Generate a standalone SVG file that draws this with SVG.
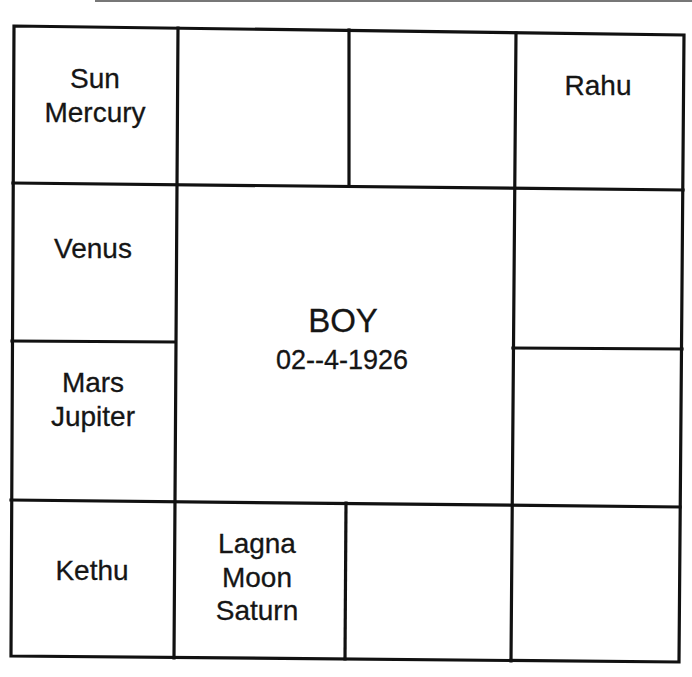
<svg xmlns="http://www.w3.org/2000/svg" width="692" height="677" viewBox="0 0 692 677">
<style>
.ln{stroke:#111;stroke-width:3.2;fill:none;stroke-linecap:square}
.t{font-family:"Liberation Sans",Arial,sans-serif;font-size:28px;fill:#151515;stroke:#151515;stroke-width:0.3;text-anchor:middle}
.c1{font-family:"Liberation Sans",Arial,sans-serif;font-size:33px;fill:#151515;stroke:#151515;stroke-width:0.3;text-anchor:middle}
.c2{font-family:"Liberation Sans",Arial,sans-serif;font-size:27px;fill:#151515;stroke:#151515;stroke-width:0.3;text-anchor:middle}
</style>
<rect width="692" height="677" fill="#ffffff"/>
<line x1="95" y1="1" x2="692" y2="1" stroke="#777" stroke-width="2"/>
<g id="connectors">
<polygon class="ln" points="14,26 684,35 679,662 11,656"/>
<line class="ln" x1="13" y1="183" x2="683" y2="190"/>
<line class="ln" x1="11" y1="500" x2="680" y2="507"/>
<line class="ln" x1="12" y1="341" x2="175" y2="342"/>
<line class="ln" x1="513" y1="348" x2="682" y2="349"/>
<line class="ln" x1="178" y1="28" x2="174" y2="658"/>
<line class="ln" x1="516" y1="33" x2="511" y2="661"/>
<line class="ln" x1="349" y1="30" x2="349" y2="186"/>
<line class="ln" x1="346" y1="503" x2="345" y2="659"/>
</g>
<g id="cell-sun-mercury"><text class="t" x="95" y="88">Sun</text><text class="t" x="95" y="122">Mercury</text></g>
<g id="cell-rahu"><text class="t" x="598" y="95">Rahu</text></g>
<g id="cell-venus"><text class="t" x="93" y="258">Venus</text></g>
<g id="cell-mars-jupiter"><text class="t" x="93" y="392">Mars</text><text class="t" x="93" y="426">Jupiter</text></g>
<g id="cell-kethu"><text class="t" x="92" y="580">Kethu</text></g>
<g id="cell-lagna"><text class="t" x="257" y="553">Lagna</text><text class="t" x="257" y="587">Moon</text><text class="t" x="257" y="620">Saturn</text></g>
<g id="center"><text class="c1" x="343" y="332">BOY</text><text class="c2" x="342" y="369">02--4-1926</text></g>
</svg>
